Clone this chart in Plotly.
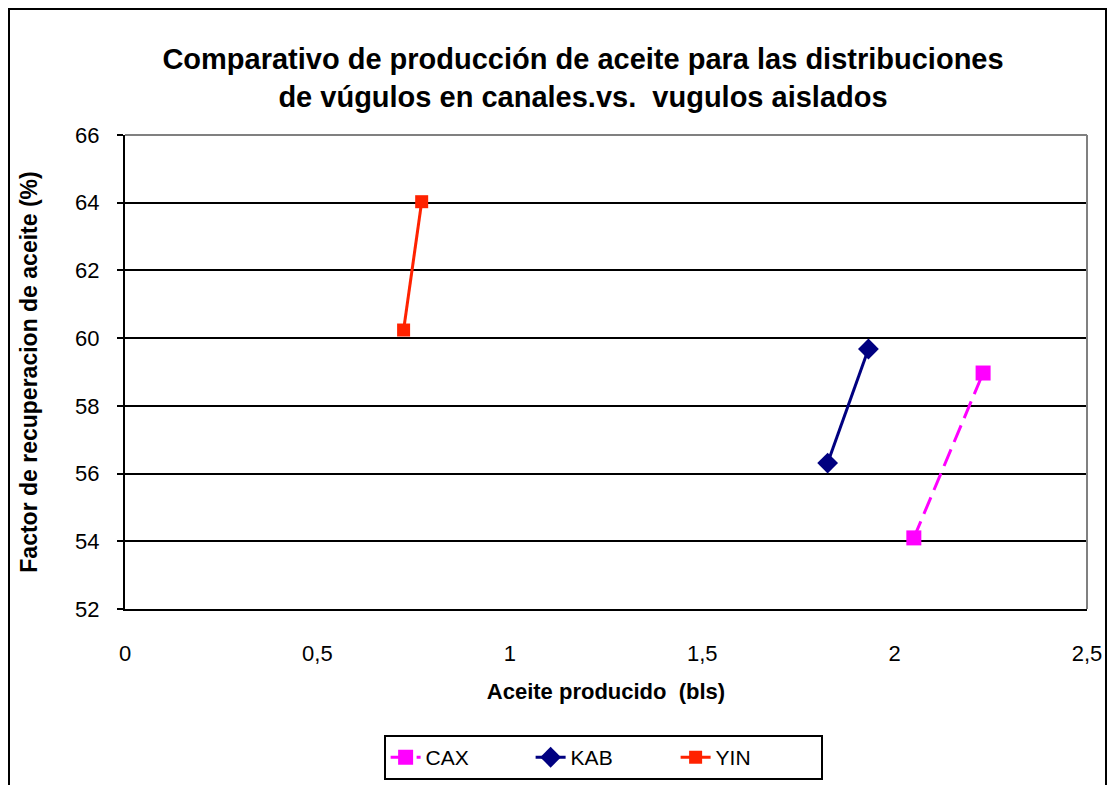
import plotly.graph_objects as go

# Aceite producido (bls) vs factor de recuperacion (%)
cax_x = [2.05, 2.23]
cax_y = [54.1, 58.97]
kab_x = [1.826, 1.932]
kab_y = [56.31, 59.68]
yin_x = [0.724, 0.771]
yin_y = [60.24, 64.03]

x_ticks = [0, 0.5, 1, 1.5, 2, 2.5]
y_ticks = [52, 54, 56, 58, 60, 62, 64, 66]

fig = go.Figure()
fig.add_trace(go.Scatter(
    x=cax_x, y=cax_y, name="CAX", mode="lines+markers",
    line=dict(color="#ff00ff", width=3, dash="18px,8px"),
    marker=dict(symbol="square", size=15, color="#ff00ff"),
))
fig.add_trace(go.Scatter(
    x=kab_x, y=kab_y, name="KAB", mode="lines+markers",
    line=dict(color="#000080", width=3),
    marker=dict(symbol="diamond", size=16, color="#000080"),
))
fig.add_trace(go.Scatter(
    x=yin_x, y=yin_y, name="YIN", mode="lines+markers",
    line=dict(color="#ff2200", width=3),
    marker=dict(symbol="square", size=13, color="#ff2200"),
))

font = "Liberation Sans, Arial, sans-serif"
W, H = 1099, 785
L, R, T, B = 117, 20, 127, 184
pw, ph = W - L - R, H - T - B

fig.update_layout(
    width=W, height=H,
    margin=dict(l=L, r=R, t=T, b=B, autoexpand=False),
    paper_bgcolor="white", plot_bgcolor="white",
    separators=",.",
    font=dict(family=font, size=22, color="black"),
    title=dict(
        text="<b>Comparativo de producción de aceite para las distribuciones<br>de vúgulos en canales.vs.  vugulos aislados</b>",
        x=575 / W, xref="container", xanchor="center",
        y=1 - 61 / H, yref="container", yanchor="middle",
        font=dict(size=29, family=font),
    ),
    xaxis=dict(
        range=[0, 2.5], tickvals=x_ticks, showgrid=False, zeroline=False,
        showline=True, linecolor="black", linewidth=2, mirror=False,
        ticks="", ticklabelstandoff=24, tickfont=dict(size=22),
        title=dict(text="<b>Aceite producido  (bls)</b>", font=dict(size=22), standoff=18),
    ),
    yaxis=dict(
        range=[52, 66], tickvals=y_ticks, showgrid=True, gridcolor="black", gridwidth=2,
        zeroline=False, showline=True, linecolor="black", linewidth=2,
        ticks="outside", ticklen=6, tickcolor="black", tickwidth=2, ticklabelstandoff=13,
        tickfont=dict(size=22),
        title=dict(text="<b>Factor de recuperacion de aceite (%)</b>", font=dict(size=23), standoff=31),
    ),
    legend=dict(
        orientation="h", x=0.497, xanchor="center", y=-0.266, yanchor="top",
        bordercolor="black", borderwidth=2, font=dict(size=21),
        entrywidth=100,
    ),
    showlegend=True,
)

# gray frame on top and right of the plot area
fig.add_shape(type="line", xref="paper", yref="paper", x0=0, x1=1, y0=1, y1=1,
              line=dict(color="gray", width=2))
fig.add_shape(type="line", xref="paper", yref="paper", x0=1, x1=1, y0=0, y1=1,
              line=dict(color="gray", width=2))
# outer chart border
fig.add_shape(type="rect", xref="paper", yref="paper",
              x0=(1 - L) / pw, x1=(W - 1 - L) / pw,
              y0=-0.45, y1=(ph + T - 1) / ph,
              line=dict(color="black", width=2))

fig.write_html("out.html")
